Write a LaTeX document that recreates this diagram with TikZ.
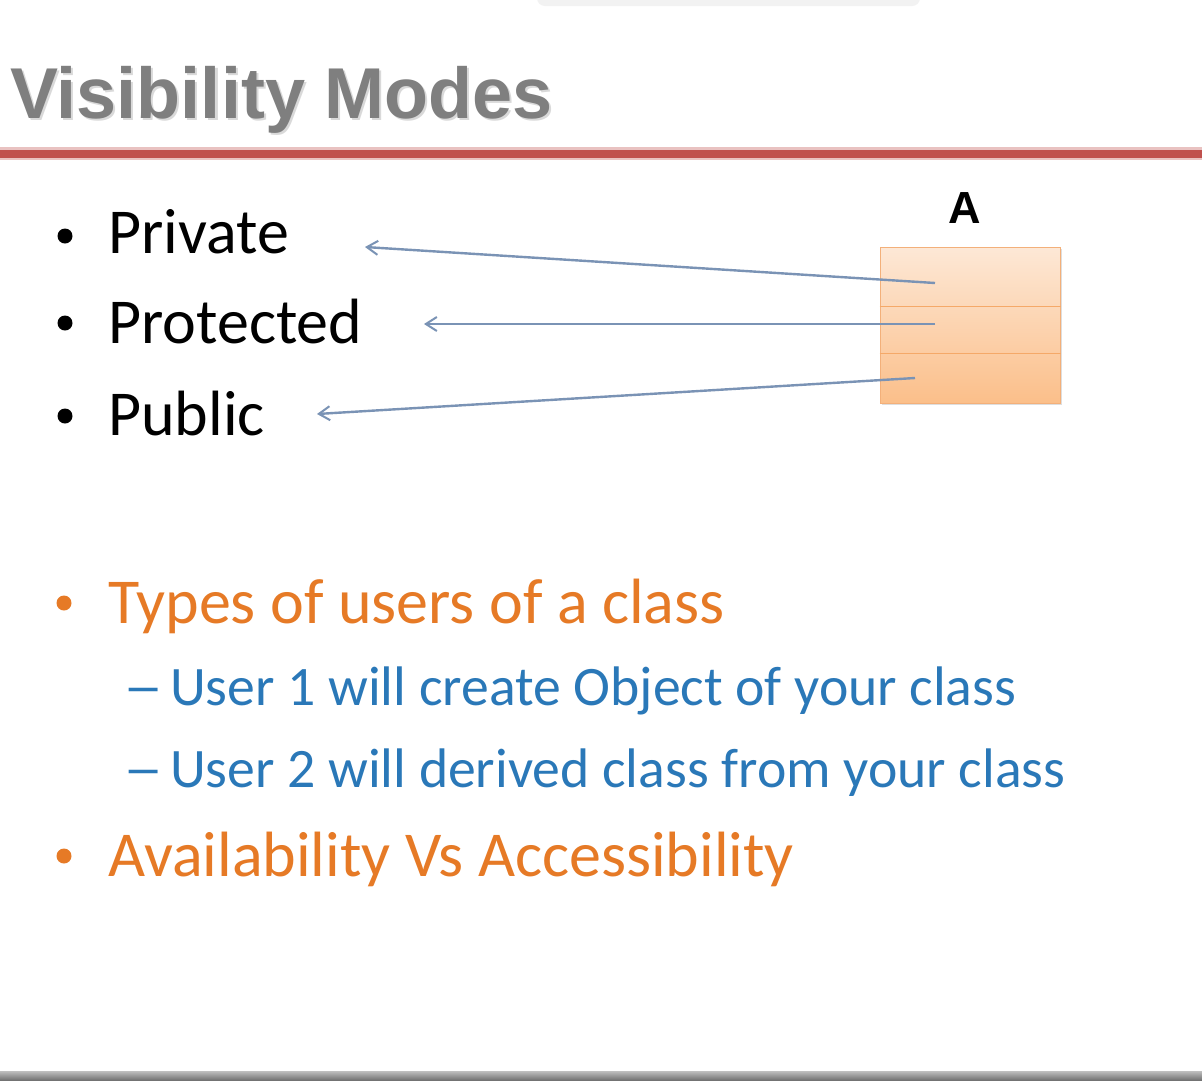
\documentclass[tikz,border=0pt]{standalone}
\usepackage{fontspec}
\setmainfont{Carlito}
\newfontfamily\arialfont{Liberation Sans}
\usetikzlibrary{arrows.meta,shadows}
\definecolor{titlegrey}{HTML}{7F7F7F}
\definecolor{redline}{HTML}{C0504D}
\definecolor{txtorange}{HTML}{E67A26}
\definecolor{txtblue}{HTML}{2A78B8}
\definecolor{arrowblue}{HTML}{7A93B5}
\definecolor{boxtop}{HTML}{FDE8D6}
\definecolor{boxbot}{HTML}{FBBF8A}
\definecolor{boxedge}{HTML}{F3B07A}
\begin{document}
\begin{tikzpicture}[x=1pt,y=-1pt,
  main/.style={anchor=base west,inner sep=0pt,font=\fontsize{64}{70}\selectfont},
  sub/.style={anchor=base west,inner sep=0pt,text=txtblue,font=\fontsize{55.7}{62}\selectfont},
  dot/.style={circle,inner sep=0pt,minimum size=15pt},
  conn/.style={draw=arrowblue,line width=2.4pt,-{Straight Barb[length=11pt,width=14pt,line width=2pt]}}
]
\useasboundingbox (0,0) rectangle (1202,1080);
\fill[white] (0,0) rectangle (1202,1080);
% faint top shadow
\fill[black!5,rounded corners=8pt] (537,-12) rectangle (920,6);
% title
\node[anchor=base west,inner sep=0pt,text=black!15,font=\arialfont\bfseries\fontsize{72}{78}\selectfont] (titleshadow) at (12,120) {Visibility Modes};
\node[anchor=base west,inner sep=0pt,text=titlegrey,font=\arialfont\bfseries\fontsize{72}{78}\selectfont] (title) at (10,118) {Visibility Modes};
% red rule
\fill[redline!35] (0,147) rectangle (1202,160);
\fill[redline] (0,149.5) rectangle (1202,157.5);
% bullets level 1 black
\node[dot,fill=black] (b1) at (65,236) {};
\node[dot,fill=black] (b2) at (65,323) {};
\node[dot,fill=black] (b3) at (65,416) {};
\node[main] (private) at (108,253) {Private};
\node[main] (protected) at (108,343) {Protected};
\node[main] (public) at (108,435) {Public};
% class box
\node[font=\arialfont\bfseries\fontsize{45}{48}\selectfont,inner sep=0pt,anchor=base] (Alabel) at (965,223) {A};
\node[draw=boxedge,line width=1pt,top color=boxtop,bottom color=boxbot,minimum width=180pt,minimum height=156pt,inner sep=0pt,
  drop shadow={shadow xshift=1.5pt,shadow yshift=-2pt,fill=black!25,opacity=0.5}] (cls) at (970,325) {};
\draw[boxedge!85!orange,line width=1.4pt] ([yshift=-60pt]cls.north west) -- ([yshift=-60pt]cls.north east);
\draw[boxedge!85!orange,line width=1.4pt] ([yshift=-107pt]cls.north west) -- ([yshift=-107pt]cls.north east);
\coordinate (p1) at (935,283);
\coordinate (p2) at (935,324);
\coordinate (p3) at (915,378);
\coordinate (t1) at (365,247);
\coordinate (t2) at (424,324);
\coordinate (t3) at (317,414);
\draw[conn] (p1) -- (t1);
\draw[conn] (p2) -- (t2);
\draw[conn] (p3) -- (t3);
% lower bullets
\node[dot,fill=txtorange] (b4) at (64,603) {};
\node[main,text=txtorange] (types) at (108,623) {Types of users of a class};
\node[sub] (d1) at (123,705) {\scalebox{1.45}[1]{–}};
\node[sub] (user1) at (170,705) {User 1 will create Object of your class};
\node[sub] (d2) at (123,787) {\scalebox{1.45}[1]{–}};
\node[sub] (user2) at (170,787) {User 2 will derived class from your class};
\node[dot,fill=txtorange] (b5) at (64,856) {};
\node[main,text=txtorange] (avail) at (108,876) {Availability Vs Accessibility};
% bottom bar
\shade[top color=black!25,bottom color=black!55] (0,1071) rectangle (1202,1080);
\end{tikzpicture}
\end{document}
